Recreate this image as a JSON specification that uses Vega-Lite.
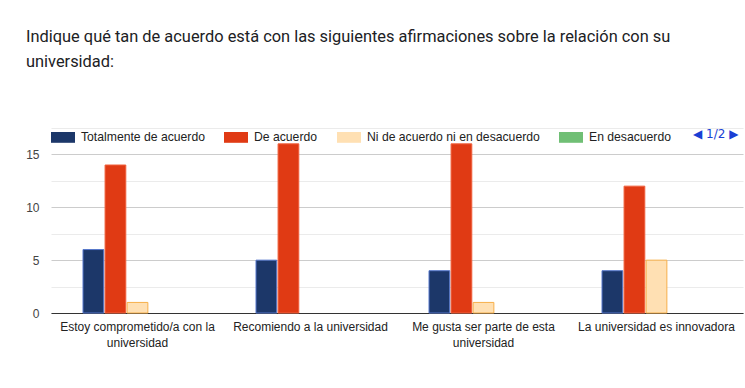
{
  "$schema": "https://vega.github.io/schema/vega-lite/v6.json",
  "width": 692,
  "height": 185,
  "autosize": {"type": "none"},
  "padding": {"left": 51, "top": 128, "right": 2, "bottom": 75},
  "background": "white",
  "title": {
    "text": ["Indique qué tan de acuerdo está con las siguientes afirmaciones sobre la relación con su", "universidad:"],
    "anchor": "start",
    "frame": "group",
    "dx": -25,
    "offset": 55,
    "font": "Roboto",
    "fontSize": 16.4,
    "fontWeight": "normal",
    "color": "#202124",
    "lineHeight": 25
  },
  "config": {"view": {"stroke": null}},
  "data": {
    "values": [
      {"Afirmación": "Estoy comprometido/a con la universidad", "Respuesta": "Totalmente de acuerdo", "Cantidad": 6},
      {"Afirmación": "Estoy comprometido/a con la universidad", "Respuesta": "De acuerdo", "Cantidad": 14},
      {"Afirmación": "Estoy comprometido/a con la universidad", "Respuesta": "Ni de acuerdo ni en desacuerdo", "Cantidad": 1},
      {"Afirmación": "Estoy comprometido/a con la universidad", "Respuesta": "En desacuerdo", "Cantidad": 0},
      {"Afirmación": "Estoy comprometido/a con la universidad", "Respuesta": "Totalmente en desacuerdo", "Cantidad": 0},
      {"Afirmación": "Recomiendo a la universidad", "Respuesta": "Totalmente de acuerdo", "Cantidad": 5},
      {"Afirmación": "Recomiendo a la universidad", "Respuesta": "De acuerdo", "Cantidad": 16},
      {"Afirmación": "Recomiendo a la universidad", "Respuesta": "Ni de acuerdo ni en desacuerdo", "Cantidad": 0},
      {"Afirmación": "Recomiendo a la universidad", "Respuesta": "En desacuerdo", "Cantidad": 0},
      {"Afirmación": "Recomiendo a la universidad", "Respuesta": "Totalmente en desacuerdo", "Cantidad": 0},
      {"Afirmación": "Me gusta ser parte de esta universidad", "Respuesta": "Totalmente de acuerdo", "Cantidad": 4},
      {"Afirmación": "Me gusta ser parte de esta universidad", "Respuesta": "De acuerdo", "Cantidad": 16},
      {"Afirmación": "Me gusta ser parte de esta universidad", "Respuesta": "Ni de acuerdo ni en desacuerdo", "Cantidad": 1},
      {"Afirmación": "Me gusta ser parte de esta universidad", "Respuesta": "En desacuerdo", "Cantidad": 0},
      {"Afirmación": "Me gusta ser parte de esta universidad", "Respuesta": "Totalmente en desacuerdo", "Cantidad": 0},
      {"Afirmación": "La universidad es innovadora", "Respuesta": "Totalmente de acuerdo", "Cantidad": 4},
      {"Afirmación": "La universidad es innovadora", "Respuesta": "De acuerdo", "Cantidad": 12},
      {"Afirmación": "La universidad es innovadora", "Respuesta": "Ni de acuerdo ni en desacuerdo", "Cantidad": 5},
      {"Afirmación": "La universidad es innovadora", "Respuesta": "En desacuerdo", "Cantidad": 0},
      {"Afirmación": "La universidad es innovadora", "Respuesta": "Totalmente en desacuerdo", "Cantidad": 0}
    ]
  },
  "mark": {"type": "bar", "strokeWidth": 1},
  "encoding": {
    "x": {
      "field": "Afirmación",
      "type": "nominal",
      "sort": null,
      "scale": {"paddingInner": 0.37, "paddingOuter": 0.185},
      "axis": {
        "title": null,
        "labelAngle": 0,
        "labelFont": "Liberation Sans",
        "labelFontSize": 12,
        "labelColor": "#222222",
        "labelPadding": 8,
        "labelLineHeight": 16,
        "labelLimit": 0,
        "ticks": false,
        "grid": false,
        "domainColor": "#333333",
        "domainWidth": 1,
        "labelExpr": "datum.label == 'Estoy comprometido/a con la universidad' ? ['Estoy comprometido/a con la', 'universidad'] : datum.label == 'Me gusta ser parte de esta universidad' ? ['Me gusta ser parte de esta', 'universidad'] : datum.label"
      }
    },
    "xOffset": {
      "field": "Respuesta",
      "type": "nominal",
      "scale": {
        "domain": ["Totalmente de acuerdo", "De acuerdo", "Ni de acuerdo ni en desacuerdo", "En desacuerdo", "Totalmente en desacuerdo"],
        "paddingInner": 0.06,
        "paddingOuter": 0
      }
    },
    "y": {
      "field": "Cantidad",
      "type": "quantitative",
      "scale": {"domain": [0, 17.5], "nice": false},
      "axis": {
        "title": null,
        "values": [0, 2.5, 5, 7.5, 10, 12.5, 15, 17.5],
        "labelExpr": "datum.value % 5 == 0 ? datum.label : ''",
        "gridColor": {"condition": {"test": "datum.value % 5 == 0", "value": "#cccccc"}, "value": "#ebebeb"},
        "domain": false,
        "ticks": false,
        "labelPadding": 12,
        "labelFont": "Liberation Sans",
        "labelFontSize": 12,
        "labelColor": "#444444"
      }
    },
    "color": {
      "field": "Respuesta",
      "type": "nominal",
      "scale": {
        "domain": ["Totalmente de acuerdo", "De acuerdo", "Ni de acuerdo ni en desacuerdo", "En desacuerdo", "Totalmente en desacuerdo"],
        "range": ["#1c3769", "#e03a14", "#ffe0b3", "#70bf75", "#8e8e8e"]
      },
      "legend": {
        "orient": "none",
        "legendX": 0,
        "legendY": -3,
        "direction": "horizontal",
        "values": ["Totalmente de acuerdo", "De acuerdo", "Ni de acuerdo ni en desacuerdo", "En desacuerdo"],
        "title": "◀ 1/2 ▶",
        "titleOrient": "right",
        "titleFont": "DejaVu Sans",
        "titleFontSize": 12,
        "titleFontWeight": "normal",
        "titleColor": "#1a3fd4",
        "titlePadding": 22,
        "symbolType": "M-1,-0.45H1V0.45H-1Z",
        "symbolSize": 576,
        "symbolStrokeWidth": 0,
        "symbolOpacity": 1,
        "labelFont": "Liberation Sans",
        "labelFontSize": 12.2,
        "labelColor": "#222222",
        "labelOffset": 6,
        "labelLimit": 0,
        "columnPadding": 19
      }
    },
    "stroke": {
      "condition": {
        "test": "datum.Cantidad > 0",
        "field": "Respuesta",
        "type": "nominal",
        "scale": {
          "domain": ["Totalmente de acuerdo", "De acuerdo", "Ni de acuerdo ni en desacuerdo", "En desacuerdo", "Totalmente en desacuerdo"],
          "range": ["#5577cc", "#f0603c", "#f7b04a", "#55aa5a", "#777777"]
        },
        "legend": null
      },
      "value": "transparent"
    }
  }
}
